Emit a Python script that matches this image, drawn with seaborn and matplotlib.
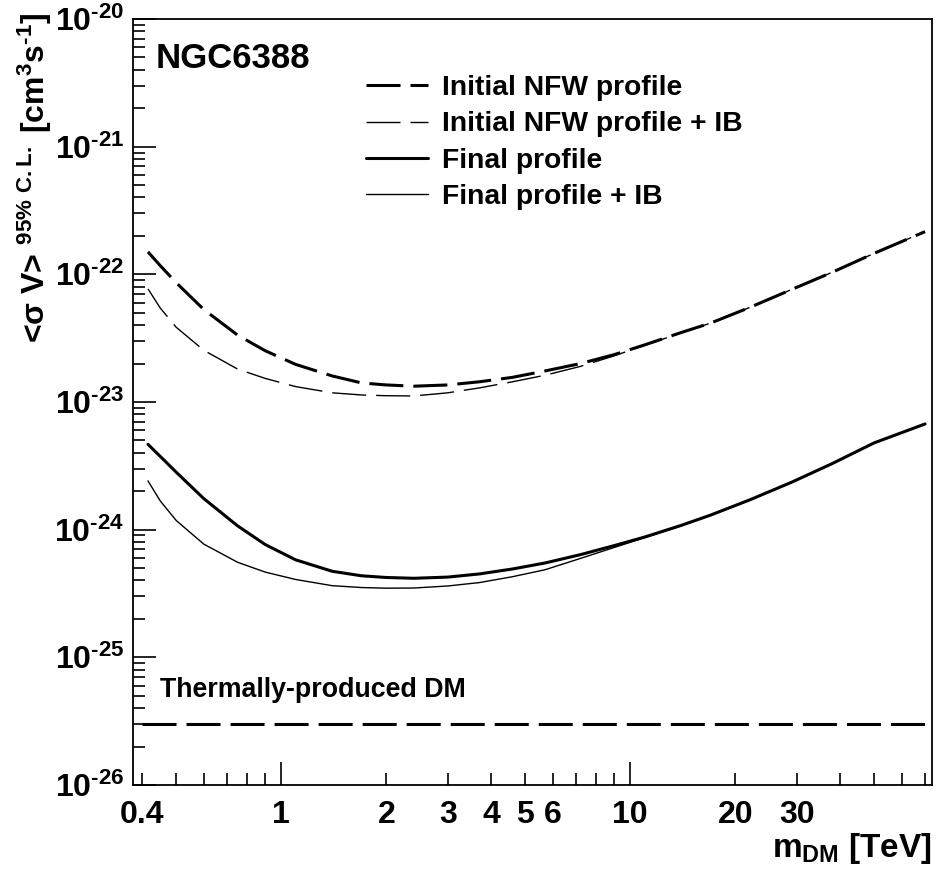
import math
import matplotlib
matplotlib.use('Agg')
import matplotlib.pyplot as plt
import seaborn as sns
from matplotlib.ticker import FixedLocator, FuncFormatter

# dark matter mass grid [TeV] shared by the four limit curves
MASS = [0.415, 0.45, 0.5, 0.6, 0.75, 0.9, 1.1, 1.4, 1.7, 2.0, 2.4, 3.0, 3.7,
        4.6, 5.7, 7.2, 9.0, 11, 14, 17, 22, 29, 38, 50, 70]

INITIAL_NFW = [1.50e-22, 1.17e-22, 8.6e-23, 5.3e-23, 3.34e-23, 2.52e-23, 1.97e-23,
               1.60e-23, 1.41e-23, 1.36e-23, 1.33e-23, 1.36e-23, 1.44e-23, 1.56e-23,
               1.75e-23, 2.0e-23, 2.35e-23, 2.8e-23, 3.5e-23, 4.15e-23, 5.5e-23,
               7.6e-23, 1.04e-22, 1.46e-22, 2.16e-22]
INITIAL_NFW_IB = [7.7e-23, 5.45e-23, 3.85e-23, 2.54e-23, 1.81e-23, 1.53e-23, 1.32e-23,
                  1.18e-23, 1.135e-23, 1.12e-23, 1.115e-23, 1.18e-23, 1.29e-23, 1.44e-23,
                  1.62e-23, 1.90e-23, 2.30e-23, 2.78e-23, 3.48e-23, 4.15e-23, 5.5e-23,
                  7.6e-23, 1.04e-22, 1.46e-22, 2.16e-22]
FINAL = [4.66e-24, 3.75e-24, 2.82e-24, 1.75e-24, 1.07e-24, 7.64e-25, 5.8e-25,
         4.72e-25, 4.35e-25, 4.22e-25, 4.16e-25, 4.25e-25, 4.50e-25, 4.92e-25,
         5.48e-25, 6.37e-25, 7.5e-25, 8.75e-25, 1.08e-24, 1.30e-24, 1.71e-24,
         2.35e-24, 3.3e-24, 4.78e-24, 6.73e-24]
FINAL_IB = [2.41e-24, 1.68e-24, 1.18e-24, 7.7e-25, 5.55e-25, 4.65e-25, 4.07e-25,
            3.64e-25, 3.52e-25, 3.48e-25, 3.49e-25, 3.62e-25, 3.85e-25, 4.28e-25,
            4.85e-25, 5.95e-25, 7.25e-25, 8.65e-25, 1.07e-24, 1.30e-24, 1.71e-24,
            2.35e-24, 3.3e-24, 4.78e-24, 6.73e-24]

THERMAL_MASS = [0.4, 70]
THERMAL_SIGV = [3e-26, 3e-26]

LEGEND_LABELS = ['Initial NFW profile', 'Initial NFW profile + IB',
                 'Final profile', 'Final profile + IB']

X_MAJOR = [1, 10]
X_MINOR = [0.4, 0.5, 0.6, 0.7, 0.8, 0.9, 2, 3, 4, 5, 6, 7, 8, 9,
           20, 30, 40, 50, 60, 70]
X_LABELED = {0.4: '0.4', 1: '1', 2: '2', 3: '3', 4: '4', 5: '5', 6: '6',
             10: '10', 20: '20', 30: '30'}
Y_DECADES = [-26, -25, -24, -23, -22, -21, -20]

HYPHEN = '\u2010'  # ROOT draws a short hyphen as the exponent sign

sns.set_style('white')
plt.rcParams['font.family'] = ['Liberation Sans', 'DejaVu Sans']
plt.rcParams['font.weight'] = 'bold'
plt.rcParams['text.color'] = 'black'
plt.rcParams['axes.labelcolor'] = 'black'
plt.rcParams['axes.labelweight'] = 'bold'
plt.rcParams['mathtext.fontset'] = 'custom'
plt.rcParams['mathtext.rm'] = 'Liberation Sans:bold'
plt.rcParams['mathtext.it'] = 'Liberation Sans:bold'
plt.rcParams['mathtext.bf'] = 'Liberation Sans:bold'
plt.rcParams['mathtext.sf'] = 'Liberation Sans:bold'
plt.rcParams['lines.scale_dashes'] = False

DASH = (0, (24.5, 7.2))

fig = plt.figure(figsize=(9.4, 8.69), dpi=100)
ax = fig.add_axes([0.1415, 0.0967, 0.85, 0.8814])

sns.lineplot(x=MASS, y=INITIAL_NFW, ax=ax, color='black', linewidth=2.2,
             linestyle=DASH, estimator=None, sort=False)
sns.lineplot(x=MASS, y=INITIAL_NFW_IB, ax=ax, color='black', linewidth=1.0,
             linestyle=DASH, estimator=None, sort=False)
sns.lineplot(x=MASS, y=FINAL, ax=ax, color='black', linewidth=2.2,
             estimator=None, sort=False)
sns.lineplot(x=MASS, y=FINAL_IB, ax=ax, color='black', linewidth=1.0,
             estimator=None, sort=False)
sns.lineplot(x=THERMAL_MASS, y=THERMAL_SIGV, ax=ax, color='black', linewidth=2.2,
             linestyle=DASH, estimator=None, sort=False)

ax.set_xscale('log')
ax.set_yscale('log')
ax.set_xlim(0.376, 73.3)
ax.set_ylim(1e-26, 1e-20)

ax.xaxis.set_major_locator(FixedLocator(X_MAJOR))
ax.xaxis.set_minor_locator(FixedLocator(X_MINOR))


def xfmt(v, pos):
    for k, s in X_LABELED.items():
        if abs(v - k) < 1e-6 * k:
            return s
    return ''


def yfmt(v, pos):
    return '$10^{' + HYPHEN + '%d}$' % abs(round(math.log10(v)))


ax.xaxis.set_major_formatter(FuncFormatter(xfmt))
ax.xaxis.set_minor_formatter(FuncFormatter(xfmt))

ax.yaxis.set_major_locator(FixedLocator([10.0 ** d for d in Y_DECADES]))
ax.yaxis.set_minor_locator(FixedLocator([k * 10.0 ** d for d in Y_DECADES[:-1]
                                         for k in range(2, 10)]))
ax.yaxis.set_major_formatter(FuncFormatter(yfmt))
ax.yaxis.set_minor_formatter(FuncFormatter(lambda v, p: ''))

for s in ax.spines.values():
    s.set_linewidth(1.3)
    s.set_color('black')

ax.tick_params(which='both', direction='in', top=False, right=False,
               bottom=True, left=True, colors='black', labelsize=23)
ax.tick_params(which='major', length=16.5, width=1.2)
ax.tick_params(which='minor', length=8.6, width=1.2)
ax.tick_params(axis='x', which='both', pad=11)
ax.tick_params(axis='y', which='both', pad=6)

ax.set_xlabel('$m_{DM}$ [TeV]', fontsize=24, fontweight='bold', loc='right')
ax.xaxis.set_label_coords(1.0, -0.06)
ax.set_ylabel('<\u03c3 V> $^{95\\%\\ C.L.}$ [cm$^{3}$s$^{' + HYPHEN + '1}$]',
              fontsize=23, loc='top')
ax.yaxis.set_label_coords(-0.099, 1.008)

ax.text(0.0288, 0.949, 'NGC6388', transform=ax.transAxes, fontsize=25,
        va='center', ha='left')
ax.text(0.0338, 0.1149, 'Thermally-produced DM', transform=ax.transAxes,
        fontsize=19.3, va='baseline', ha='left')

handles = ax.get_lines()[:4]
ax.legend(handles, LEGEND_LABELS, loc='upper left', bbox_to_anchor=(0.2916, 0.927),
          frameon=False, fontsize=20.3, handlelength=2.2, handletextpad=0.5,
          labelspacing=0.37, borderpad=0, borderaxespad=0)

fig.savefig('out.png', dpi=100, facecolor='white')
